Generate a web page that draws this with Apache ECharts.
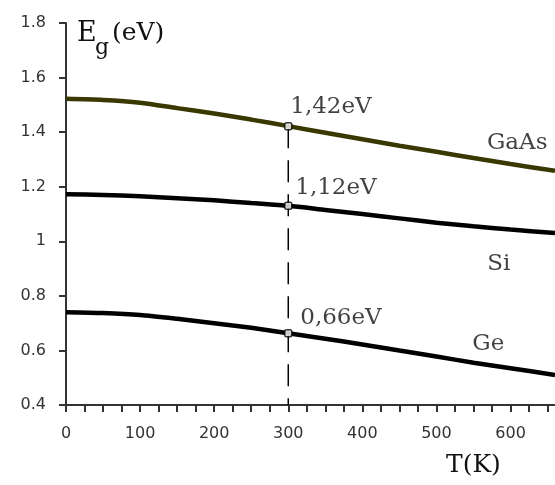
<!DOCTYPE html>
<html><head><meta charset="utf-8">
<script src="https://cdn.jsdelivr.net/npm/echarts@6/dist/echarts.min.js"></script>
<style>html,body{margin:0;padding:0;background:#fff}#c{width:555px;height:485px}</style>
</head><body><div id="c"></div>
<script>
// ---- data ----
const temps = [0, 50, 100, 150, 200, 250, 300, 350, 400, 450, 500, 550, 600, 660];
const gaas  = [1.522, 1.518, 1.508, 1.488, 1.468, 1.446, 1.422, 1.398, 1.374, 1.350, 1.328, 1.305, 1.283, 1.258];
const si    = [1.172, 1.170, 1.165, 1.158, 1.150, 1.140, 1.130, 1.115, 1.100, 1.084, 1.068, 1.055, 1.043, 1.030];
const ge    = [0.740, 0.737, 0.730, 0.716, 0.700, 0.683, 0.663, 0.643, 0.622, 0.600, 0.578, 0.555, 0.535, 0.510];
const materials = ['GaAs', 'Si', 'Ge'];
const markT = 300;
const markLabels = ['1,42eV', '1,12eV', '0,66eV'];
const nameAnchorT = [609, 584, 570];
const nameAnchorE = [1.361, 0.915, 0.623];
const xMin = 0, xMax = 660, xStep = 25, xLabelStep = 100;
const yMin = 0.4, yMax = 1.8, yStep = 0.2;
const yAxisTitle = ['E', 'g', '(eV)'];
const xAxisTitle = 'T(K)';

// ---- build ----
const seriesVals = [gaas, si, ge];
const colors = ['#383800', '#000000', '#000000'];
const markIdx = temps.indexOf(markT);
const labelOffsets = [[2, -3], [7, -2], [12, 1]];
const serifFont = '"DejaVu Serif", "Liberation Serif", serif';
const textColor = '#111';

const series = [];
seriesVals.forEach((vals, i) => {
  series.push({
    name: materials[i], type: 'line', smooth: 0.25, symbol: 'none', z: 3,
    data: temps.map((t, k) => [t, vals[k]]),
    lineStyle: { color: colors[i], width: 4.5 }
  });
});
// dashed guide at markT
series.push({
  type: 'line', symbol: 'none', z: 2, silent: true,
  data: [[markT, gaas[markIdx]], [markT, yMin]],
  lineStyle: { color: '#000', width: 1.5, type: [22, 12] }
});
// markers with value labels
series.push({
  type: 'scatter', z: 5, symbol: 'roundRect', symbolSize: 7,
  itemStyle: { color: '#fff', borderColor: '#000', borderWidth: 1.5 },
  data: seriesVals.map((vals, i) => ({
    value: [markT, vals[markIdx]],
    label: { show: true, formatter: markLabels[i], position: 'top', align: 'left',
      distance: 0, offset: labelOffsets[i],
      fontFamily: serifFont, fontSize: 23, color: textColor }
  }))
});
// material names
series.push({
  type: 'scatter', z: 5, symbolSize: 0, silent: true,
  data: materials.map((m, i) => ({
    value: [nameAnchorT[i], nameAnchorE[i]],
    label: { show: true, formatter: m, position: 'inside',
      fontFamily: serifFont, fontSize: 23, color: textColor }
  }))
});

const titleStyle = (size) => ({ fontFamily: serifFont, fontSize: size, fontWeight: 'normal', color: textColor });

const chart = echarts.init(document.getElementById('c'), null, { renderer: 'canvas' });
chart.setOption({
  animation: false,
  backgroundColor: '#fff',
  title: [
    { text: yAxisTitle[0], left: 77, top: 20, padding: 0, textStyle: titleStyle(27) },
    { text: yAxisTitle[1], left: 95, top: 37, padding: 0, textStyle: titleStyle(22) },
    { text: yAxisTitle[2], left: 112, top: 21, padding: 0, textStyle: titleStyle(25) },
    { text: xAxisTitle, left: 446, top: 453, padding: 0, textStyle: titleStyle(25) }
  ],
  grid: { left: 66, right: 0, top: 23, bottom: 80, containLabel: false },
  xAxis: {
    type: 'value', min: xMin, max: xMax, interval: xStep,
    axisLine: { show: true, onZero: false, lineStyle: { color: '#333', width: 2 } },
    axisTick: { show: true, length: 7, lineStyle: { color: '#333', width: 2 } },
    axisLabel: { margin: 21, fontFamily: '"DejaVu Sans", sans-serif', fontSize: 16, color: '#333',
      showMaxLabel: false,
      formatter: v => (v % xLabelStep === 0 ? String(v) : '') },
    splitLine: { show: false }
  },
  yAxis: {
    type: 'value', min: yMin, max: yMax, interval: yStep,
    axisLine: { show: true, onZero: false, lineStyle: { color: '#333', width: 2 } },
    axisTick: { show: true, length: 7, lineStyle: { color: '#333', width: 2 } },
    axisLabel: { margin: 20, fontFamily: '"DejaVu Sans", sans-serif', fontSize: 16, color: '#333' },
    splitLine: { show: false }
  },
  series: series
});
</script></body></html>
